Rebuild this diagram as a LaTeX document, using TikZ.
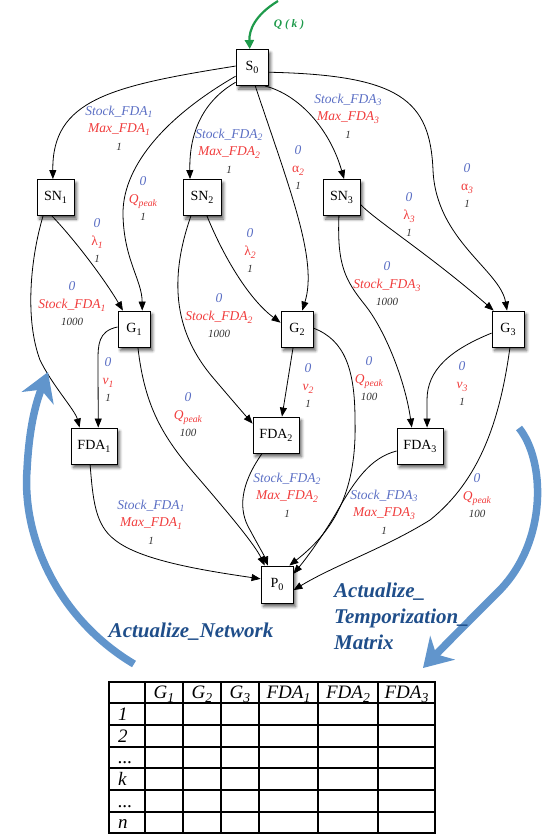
\documentclass[tikz,border=0pt]{standalone}
\usepackage{fontspec}
\setmainfont{Liberation Serif}
\usepackage{graphicx}
\usetikzlibrary{arrows.meta,shadows.blur}
\definecolor{lblue}{HTML}{5B6FC4}
\definecolor{lred}{HTML}{F03C3C}
\definecolor{lnum}{HTML}{333333}
\definecolor{qgreen}{HTML}{1E9A4B}
\definecolor{bigblue}{HTML}{6195CC}
\definecolor{dblue}{HTML}{1F4E8A}
\newcommand\sbx[1]{\raisebox{-0.45ex}{\scalebox{0.72}{#1}}}
\newcommand\lab[3]{{\color{lblue}#1}\\{\color{lred}#2}\\{\fontsize{11}{17.5}\selectfont\color{lnum}#3}}
\tikzset{
 box/.style={draw=black, fill=white, line width=0.9pt, minimum width=32pt, minimum height=36pt,
   inner sep=0pt, font=\fontsize{14}{16}\selectfont,
   blur shadow={shadow xshift=2.5pt, shadow yshift=-3.5pt, shadow blur steps=6, shadow blur radius=3pt, shadow opacity=65}},
 lbl/.style={align=center, inner sep=0pt, font=\fontsize{13.5}{17.5}\selectfont\itshape},
 edge/.style={line width=0.8pt, -{Triangle[length=9pt,width=7pt]}},
 qarr/.style={qgreen, line width=2.2pt, -{Triangle[length=9pt,width=9pt]}},
 bigarr/.style={bigblue, line width=7.5pt, -{Stealth[length=28pt,width=34pt,inset=9pt]}},
 actext/.style={dblue, inner sep=0pt, font=\fontsize{21}{26}\selectfont\bfseries\itshape},
 tbl/.style={line width=1.5pt, line cap=rect},
 ttxt/.style={inner sep=0pt, font=\fontsize{19}{20}\selectfont\itshape},
}
\begin{document}
\begin{tikzpicture}[x=1pt,y=-1pt]
\useasboundingbox (0,0) rectangle (544,836);
% nodes
\node[box] (S0) at (252,67.5) {S\sbx{0}};
\node[box, minimum width=37pt] (SN1) at (55.5,197.5) {SN\sbx{1}};
\node[box, minimum width=38pt] (SN2) at (202,197.5) {SN\sbx{2}};
\node[box, minimum width=37pt] (SN3) at (341.5,197.5) {SN\sbx{3}};
\node[box] (G1) at (134,329) {G\sbx{1}};
\node[box] (G2) at (297,329) {G\sbx{2}};
\node[box] (G3) at (508,329) {G\sbx{3}};
\node[box, minimum width=46pt] (FDA1) at (94,446) {FDA\sbx{1}};
\node[box, minimum width=46pt] (FDA2) at (276,435) {FDA\sbx{2}};
\node[box, minimum width=46pt] (FDA3) at (420,446) {FDA\sbx{3}};
\node[box, minimum height=37pt] (P0) at (277,584.5) {P\sbx{0}};
% input
\coordinate (qs) at (278,1);
\draw[qarr] (qs) .. controls (255,15) and (249,30) .. (S0.97);
\node[text=qgreen, inner sep=0pt, font=\fontsize{11.5}{12}\selectfont\bfseries\itshape] (qk) at (289,25) {Q ( k )};
% edges
\draw[edge] (S0.175) .. controls (110,86) and (52,100) .. (SN1.98);
\draw[edge] (S0.208) .. controls (160,120) and (122,170) .. (123,215) .. controls (124,260) and (142,280) .. (G1.66);
\draw[edge] (S0.222) .. controls (205,100) and (189,130) .. (SN2.123);
\draw[edge] (S0.280) .. controls (290,190) and (318,260) .. (G2.74.5);
\draw[edge] (S0.305) .. controls (300,95) and (330,130) .. (SN3.82);
\draw[edge] (S0.344) .. controls (400,75) and (430,100) .. (433,170) .. controls (436,240) and (500,270) .. (G3.93);
\draw[edge] (SN1.259) .. controls (75,240) and (105,280) .. (G1.121);
\draw[edge] (SN1.236) .. controls (30,260) and (25,320) .. (40,360) .. controls (52,385) and (75,410) .. (FDA1.128);
\draw[edge] (SN2.285) .. controls (225,260) and (250,300) .. (G2.159);
\draw[edge] (SN2.239) .. controls (165,290) and (180,340) .. (215,380) .. controls (232,400) and (245,415) .. (FDA2.154);
\draw[edge] (SN3.340) .. controls (375,220) and (430,255) .. (G3.128);
\draw[edge] (SN3.262) .. controls (337,265) and (345,280) .. (365,305) .. controls (385,330) and (405,380) .. (FDA3.114);
\draw[edge] (G1.173) .. controls (98,331) and (98,345) .. (98,362) -- (FDA1.77);
\draw[edge] (G1.282) .. controls (145,410) and (165,440) .. (200,480) .. controls (230,515) and (255,545) .. (P0.123);
\draw[edge] (G2.258) -- (FDA2.72);
\draw[edge] (G2.3) .. controls (345,340) and (355,370) .. (355,420) .. controls (357,490) and (335,530) .. (P0.57);
\draw[edge] (G3.194) .. controls (450,350) and (427,370) .. (427,400) -- (FDA3.69);
\draw[edge] (G3.276) .. controls (500,420) and (480,480) .. (430,520) .. controls (385,548) and (335,565) .. (P0.341);
\draw[edge] (FDA1.258) .. controls (93,500) and (95,525) .. (115,540) .. controls (140,560) and (200,570) .. (P0.161);
\draw[edge] (FDA2.233) .. controls (240,485) and (238,510) .. (250,530) .. controls (258,545) and (264,555) .. (P0.116);
\draw[edge] (FDA3.192) .. controls (370,458) and (355,480) .. (335,515) .. controls (320,540) and (305,560) .. (P0.33);
% labels
\node[lbl] (l1) at (119,128) {\lab{Stock\_FDA\sbx{1}}{Max\_FDA\sbx{1}}{1}};
\node[lbl] (l2) at (143,199) {\lab{0}{Q\sbx{peak}}{1}};
\node[lbl] (l3) at (229,151) {\lab{Stock\_FDA\sbx{2}}{Max\_FDA\sbx{2}}{1}};
\node[lbl] (l4) at (298,168) {\lab{0}{{\upshape α}\sbx{2}}{1}};
\node[lbl] (l5) at (348,116) {\lab{Stock\_FDA\sbx{3}}{Max\_FDA\sbx{3}}{1}};
\node[lbl] (l6) at (467,186) {\lab{0}{{\upshape α}\sbx{3}}{1}};
\node[lbl] (l7) at (97,241) {\lab{0}{{\upshape λ}\sbx{1}}{1}};
\node[lbl] (l8) at (72,304) {\lab{0}{Stock\_FDA\sbx{1}}{1000}};
\node[lbl] (l9) at (250,251) {\lab{0}{{\upshape λ}\sbx{2}}{1}};
\node[lbl] (l10) at (219,316) {\lab{0}{Stock\_FDA\sbx{2}}{1000}};
\node[lbl] (l11) at (409,215) {\lab{0}{{\upshape λ}\sbx{3}}{1}};
\node[lbl] (l12) at (387,284) {\lab{0}{Stock\_FDA\sbx{3}}{1000}};
\node[lbl] (l13) at (108,380) {\lab{0}{v\sbx{1}}{1}};
\node[lbl] (l14) at (188,415) {\lab{0}{Q\sbx{peak}}{100}};
\node[lbl] (l15) at (308,386) {\lab{0}{v\sbx{2}}{1}};
\node[lbl] (l16) at (369,379) {\lab{0}{Q\sbx{peak}}{100}};
\node[lbl] (l17) at (151,522) {\lab{Stock\_FDA\sbx{1}}{Max\_FDA\sbx{1}}{1}};
\node[lbl] (l18) at (287,495) {\lab{Stock\_FDA\sbx{2}}{Max\_FDA\sbx{2}}{1}};
\node[lbl] (l19) at (384,512) {\lab{Stock\_FDA\sbx{3}}{Max\_FDA\sbx{3}}{1}};
\node[lbl] (l20) at (462,384) {\lab{0}{v\sbx{3}}{1}};
\node[lbl] (l21) at (477,496) {\lab{0}{Q\sbx{peak}}{100}};
% big arrows
\coordinate (anb) at (134,664);
\coordinate (ant) at (48,372);
\draw[bigarr] (anb) .. controls (60,620) and (22,540) .. (27,470) .. controls (29,430) and (35,405) .. (ant);
\coordinate (atp) at (519,428);
\coordinate (atb) at (423,668);
\draw[bigarr] (atp) .. controls (545,460) and (548,540) .. (500,590) .. controls (475,615) and (450,640) .. (atb);
\node[actext, anchor=base] (an) at (191,637) {Actualize\_Network};
\node[actext, anchor=north west, align=left] (at) at (334,583) {Actualize\_\\Temporization\_\\Matrix};
% table
\foreach \x in {109,145,183,221,259,318,378,435} \draw[tbl] (\x,682) -- (\x,833);
\foreach \y in {682,703,725,747,768,790,812,833} \draw[tbl] (109,\y) -- (435,\y);
\node[ttxt, anchor=base] (h1) at (164,698.5) {G\sbx{1}};
\node[ttxt, anchor=base] (h2) at (202,698.5) {G\sbx{2}};
\node[ttxt, anchor=base] (h3) at (240,698.5) {G\sbx{3}};
\node[ttxt, anchor=base] (h4) at (288.5,698.5) {FDA\sbx{1}};
\node[ttxt, anchor=base] (h5) at (348,698.5) {FDA\sbx{2}};
\node[ttxt, anchor=base] (h6) at (406.5,698.5) {FDA\sbx{3}};
\node[ttxt, anchor=base west] (r1) at (118,720) {1};
\node[ttxt, anchor=base west] (r2) at (118,742) {2};
\node[ttxt, anchor=base west] (r3) at (118,763.5) {...};
\node[ttxt, anchor=base west] (r4) at (118,785) {k};
\node[ttxt, anchor=base west] (r5) at (118,807) {...};
\node[ttxt, anchor=base west] (r6) at (118,828.5) {n};
\end{tikzpicture}
\end{document}
